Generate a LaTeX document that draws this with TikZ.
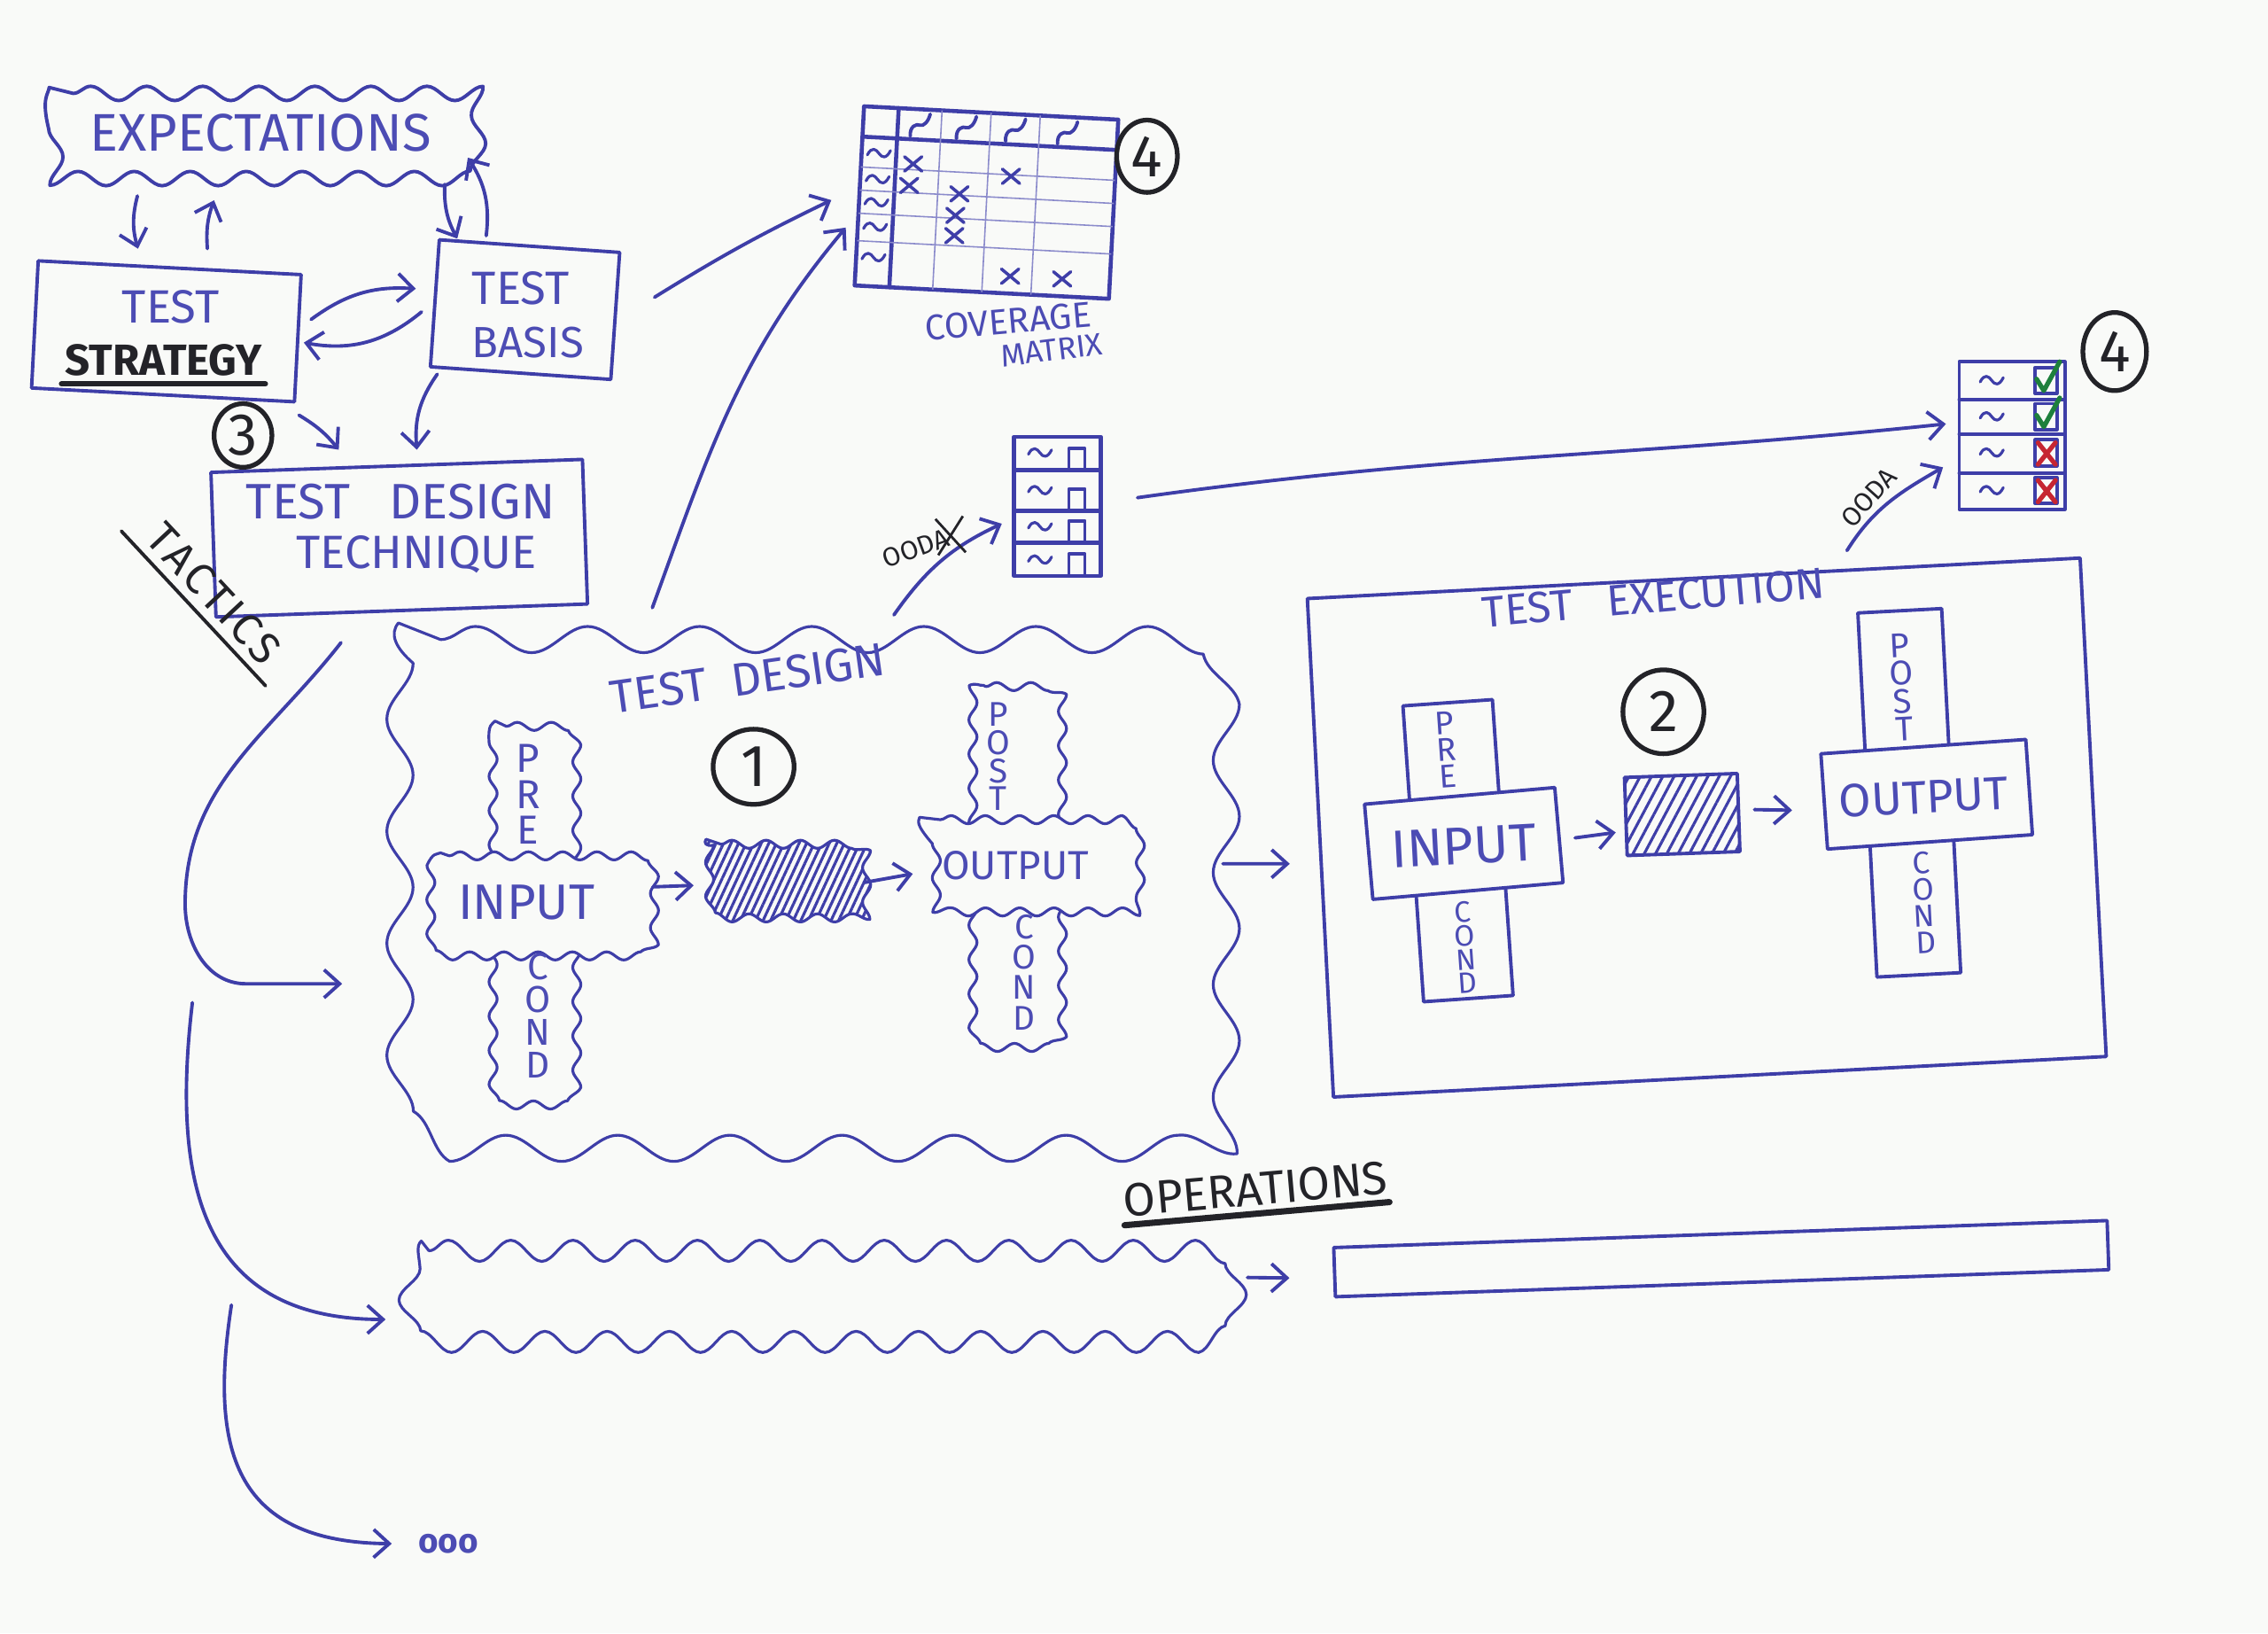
\documentclass[tikz,border=0pt]{standalone}
\usepackage{fontspec}
\setmainfont{Fira Sans}
\usetikzlibrary{arrows.meta,decorations.pathmorphing,shapes.geometric,calc,patterns.meta}
\newcommand\myu{0.1633mm}
\newcommand\myfs[1]{\fontsize{#1}{#1}\selectfont}
\newcommand\mycloud[3]{\draw[#3] ($(#1.north west)+(#2,0)$) -- ($(#1.north east)+(-#2,0)$) .. controls (#1.north east) .. ($(#1.north east)+(0,#2)$) -- ($(#1.south east)+(0,-#2)$) .. controls (#1.south east) .. ($(#1.south east)+(-#2,0)$) -- ($(#1.south west)+(#2,0)$) .. controls (#1.south west) .. ($(#1.south west)+(0,-#2)$) -- ($(#1.north west)+(0,#2)$) .. controls (#1.north west) .. cycle;}
\definecolor{ink}{RGB}{62,62,168}
\definecolor{inkt}{RGB}{76,76,180}
\definecolor{blk}{RGB}{35,35,40}
\definecolor{paper}{RGB}{249,250,248}
\definecolor{okgreen}{RGB}{30,128,60}
\definecolor{badred}{RGB}{198,38,50}
\tikzset{
  ln/.style={draw=ink, line width=1.1pt, line cap=round, line join=round},
  thinln/.style={draw=ink!60, line width=0.45pt},
  arr/.style={ln, -{Straight Barb[length=5pt,width=9pt]}},
  wh/.style 2 args={minimum width=#1*\myu, minimum height=#2*\myu},
  box/.style={ln, rectangle, inner sep=0pt},
  anch/.style={rectangle, inner sep=0pt},
  cloudA/.style={ln, decorate, decoration={snake, amplitude=2.3pt, segment length=18pt}},
  cloudB/.style={ln, line width=0.9pt, decorate, decoration={snake, amplitude=4.2pt, segment length=36pt}},
  cloudC/.style={ln, line width=0.9pt, decorate, decoration={snake, amplitude=1.3pt, segment length=11pt}},
  cloudD/.style={ln, line width=0.9pt, decorate, decoration={snake, amplitude=3.4pt, segment length=20pt}},
  txt/.style={text=inkt, inner sep=0pt},
  btxt/.style={text=blk, inner sep=0pt},
  circ/.style={ellipse, draw=blk, line width=1.5pt, inner sep=0pt, text=blk, font=\myfs{19}},
  bline/.style={draw=blk, line width=1.8pt, line cap=round},
  tld/.pic={\draw[ln, line width=0.9pt] (-8,1) .. controls (-5,-5) and (-2,-3) .. (0,0) .. controls (2,3) and (5,4) .. (8,-2);},
  xm/.pic={\draw[ln, line width=1pt] (-6,-5) -- (6,5) (-6,5) -- (6,-5);},
}
\begin{document}
\begin{tikzpicture}[x=0.1633mm,y=-0.1633mm]
\fill[paper] (0,0) rectangle (1568,1129);
\useasboundingbox (0,0) rectangle (1568,1129);

% ---------------- strategy level
\node[anch, wh={296}{56}] (exp) at (181,93) {};
\mycloud{exp}{18}{cloudA}
\node[txt, font=\myfs{17}] (expt) at (180,92) {EXPECTATIONS};
\node[box, wh={182}{88}, rotate=-3] (ts) at (115,229) {};
\node[txt, font=\myfs{15}] (tst1) at (118,212) {TEST};
\node[btxt, font=\bfseries\myfs{14}] (tst2) at (113,249) {STRATEGY};
\draw[bline] ($(tst2.south west)+(-2,5)$) -- ($(tst2.south east)+(2,5)$);
\node[box, wh={125}{88}, rotate=-4] (tb) at (363,214) {};
\node[txt, font=\myfs{15}] (tbt1) at (360,199) {TEST};
\node[txt, font=\myfs{14}] (tbt2) at (365,237) {BASIS};
\node[box, wh={257}{100}, rotate=2] (tdt) at (276,372) {};
\node[txt, font=\myfs{16}] (tdt1) at (277,347) {TEST\ \ \ DESIGN};
\node[txt, font=\myfs{15}] (tdt2) at (288,383) {TECHNIQUE};
\node[circ, wh={40}{44}] (c3) at (168,301) {3};
\node[btxt, font=\myfs{14}, rotate=-47, inner sep=3pt] (tac) at (148,410) {T\kern1pt A\kern1pt C\kern1pt T\kern1pt I\kern1pt C\kern1pt S};
\draw[bline, line width=1.1pt] ($(tac.south west)!-0.06!(tac.south east)$) -- ($(tac.south east)!-0.03!(tac.south west)$);

\draw[arr] ($(exp.south)+(-86,14)$) to[bend right=15] ($(ts.north)+(-22,-12)$);
\draw[arr] ($(ts.north)+(26,-12)$) to[bend left=12] ($(exp.south)+(-33,17)$);
\draw[arr] ($(exp.south east)+(-22,6)$) to[bend right=15] ($(tb.north)+(-50,-4)$);
\draw[arr] ($(tb.north)+(-30,-6)$) to[bend right=20] ($(exp.east)+(-6,16)$);
\draw[arr] ($(ts.east)+(8,-13)$) to[bend left=20] ($(tb.west)+(-12,-10)$);
\draw[arr] ($(tb.west)+(-8,6)$) to[bend left=25] ($(ts.east)+(3,3)$);
\draw[arr] ($(ts.south east)+(2,8)$) to[bend left=10] ($(tdt.north)+(-40,-10)$);
\draw[arr] ($(tb.south west)+(6,4)$) to[bend right=20] ($(tdt.north)+(14,-10)$);

% ---------------- coverage matrix
\node[box, wh={176}{124}, rotate=-3, line width=1.3pt] (cm) at (682,140) {};
\begin{scope}[shift={(cm.center)}, rotate=-3]
  \draw[ln, line width=1.3pt] (-88,-41) -- (88,-41);
  \draw[ln, line width=1.3pt] (-64,-62) -- (-64,62);
  \foreach \xx in {-34,0,34} \draw[thinln] (\xx,-62) -- (\xx,62);
  \foreach \yy in {-20,-4,12,31} \draw[thinln] (-88,\yy) -- (88,\yy);
  \foreach \yy in {-30,-12,4,21,42} \path (-76,\yy) pic {tld};
  \foreach \xx in {-49,-17,17,53} \draw[ln] (\xx-6,-43) .. controls (\xx-7,-50) and (\xx-2,-52) .. (\xx,-51) .. controls (\xx+3,-50) and (\xx+6,-54) .. (\xx+7,-59);
  \foreach \pp in {(-52,-24),(16,-19),(-54,-9),(-19,-5),(-21,10),(-21,24),(19,50),(55,50)} \path \pp pic {xm};
\end{scope}
\node[txt, font=\myfs{11.5}, rotate=5] (cov) at (697,222) {COVERAGE};
\node[txt, font=\myfs{10}, rotate=7] (mat) at (727,242) {MATRIX};
\node[circ, wh={42}{50}] (c4a) at (793,108) {4};

% ---------------- test case list
\node[box, wh={60}{96}, line width=1.3pt] (tl) at (731,350) {};
\begin{scope}[shift={(tl.center)}]
  \foreach \yy in {-25,3,25} \draw[ln, line width=1.3pt] (-30,\yy) -- (30,\yy);
  \foreach \bb in {-25,3,25,48} \draw[ln] (8,\bb) rectangle (19,\bb-15);
  \foreach \cc in {-37,-11,14,37} \path (-12,\cc) pic {tld};
\end{scope}

% ---------------- result list
\node[box, wh={73}{102}] (rl) at (1391,301) {};
\begin{scope}[shift={(rl.center)}]
  \foreach \yy in {-25,-1,26} \draw[ln] (-36.5,\yy) -- (36.5,\yy);
  \foreach \cc in {-38,-13,12,38} {\draw[ln] (16,\cc-9) rectangle (31,\cc+9); \path (-14,\cc) pic {tld};}
  \foreach \cc in {-38,-13} \draw[okgreen, line width=1.5pt, line cap=round, line join=round] (17,\cc-1) -- (22,\cc+7) -- (33,\cc-13);
  \foreach \cc in {12,38} \draw[badred, line width=1.5pt, line cap=round] (18,\cc-7) -- (30,\cc+8) (30,\cc-7) -- (18,\cc+8);
\end{scope}
\node[circ, wh={44}{54}] (c4b) at (1462,243) {4};

% ---------------- test design
\node[anch, wh={570}{355}] (tdc) at (540,620) {};
\mycloud{tdc}{50}{cloudB}
\node[txt, font=\myfs{15}, rotate=8] (tdct) at (517,469) {TEST\ \ DESIGN};
\node[circ, wh={56}{52}] (c1) at (521,530) {1};
\node[anch, wh={55}{255}] (tdpre) at (364,630) {};
\mycloud{tdpre}{14}{cloudC}
\node[anch, wh={150}{66}] (tdin) at (370,625) {};
\mycloud{tdin}{16}{cloudC, fill=paper}
\node[txt, font=\myfs{16}] (tdint) at (364,624) {INPUT};
\node[txt, font={\fontsize{13}{11.5}\selectfont}, align=center] (tdp) at (365,549) {P\\R\\E};
\node[txt, font={\fontsize{12}{10.6}\selectfont}, align=center] (tdcd1) at (372,702) {C\\O\\N\\D};
\node[anch, wh={108}{56}] (tdsh) at (537,612) {};
\mycloud{tdsh}{16}{cloudC, pattern={Lines[angle=65,distance=2.2pt,line width=0.9pt]}, pattern color=ink}
\node[anch, wh={58}{250}] (tdpost) at (697,600) {};
\mycloud{tdpost}{14}{cloudC}
\node[anch, wh={145}{62}] (tdout) at (707,598) {};
\mycloud{tdout}{16}{cloudC, fill=paper}
\node[txt, font=\myfs{13}] (tdoutt) at (702,598) {OUTPUT};
\node[txt, font={\fontsize{11}{9}\selectfont}, align=center] (tdpo) at (690,523) {P\\O\\S\\T};
\node[txt, font={\fontsize{11}{9.8}\selectfont}, align=center] (tdcd2) at (708,672) {C\\O\\N\\D};
\draw[arr] ($(tdin.east)+(6,-12)$) -- ($(tdsh.west)+(-3,0)$);
\draw[arr] ($(tdsh.east)+(6,-2)$) -- ($(tdout.west)+(-3,6)$);

% ---------------- test execution
\node[box, wh={535}{345}, rotate=3] (te) at (1180,572) {};
\node[txt, font=\myfs{14}, rotate=5] (tet) at (1143,413) {TEST\ \ \ EXECUTION};
\node[circ, wh={56}{58}] (c2) at (1150,492) {2};
\node[box, wh={62}{205}, rotate=4] (tepre) at (1008,588) {};
\node[box, fill=paper, wh={132}{66}, rotate=5] (tein) at (1012,583) {};
\node[txt, font=\myfs{17}, rotate=3] (teint) at (1012,585) {INPUT};
\node[txt, font={\fontsize{10.5}{8.6}\selectfont}, align=center, rotate=4] (tep) at (1000,518) {P\\R\\E};
\node[txt, font={\fontsize{9.5}{7.6}\selectfont}, align=center, rotate=4] (tecd1) at (1013,655) {C\\O\\N\\D};
\node[box, wh={78}{54}, rotate=2, pattern={Lines[angle=62,distance=3.2pt,line width=0.9pt]}, pattern color=ink] (tesh) at (1163,563) {};
\node[box, wh={58}{252}, rotate=3] (tepost) at (1320,548) {};
\node[box, fill=paper, wh={142}{66}, rotate=4] (teout) at (1332,549) {};
\node[txt, font=\myfs{15}, rotate=3] (teoutt) at (1330,551) {OUTPUT};
\node[txt, font={\fontsize{11}{9}\selectfont}, align=center, rotate=3] (tepo) at (1315,475) {P\\O\\S\\T};
\node[txt, font={\fontsize{10}{8.6}\selectfont}, align=center, rotate=3] (tecd2) at (1330,624) {C\\O\\N\\D};
\draw[arr] ($(tein.east)+(10,2)$) -- ($(tesh.west)+(-6,11)$);
\draw[arr] ($(tesh.east)+(10,-2)$) -- ($(teout.west)+(-21,6)$);

% ---------------- links between phases
\draw[arr] ($(tdc.east)+(20,-23)$) -- ($(te.west)+(-20,11)$);
\draw[arr] ($(tb.east)+(26,-13)$) to[bend left=3] ($(cm.west)+(-18,3)$);
\draw[arr] ($(tdc.north)+(-89,-22)$) to[out=70,in=230] ($(cm.west)+(-8,22)$);
\draw[arr] ($(tdc.north)+(78,-17)$) to[out=55,in=205] ($(tl.west)+(-7,12)$);
\node[btxt, font=\myfs{8.5}, rotate=20] (ooda1) at (633,379) {OODA};
\draw[draw=blk, line width=0.8pt] ($(ooda1.east)+(-9,-12)$) -- ($(ooda1.east)+(12,11)$) ($(ooda1.east)+(10,-14)$) -- ($(ooda1.east)+(-7,13)$);
\draw[arr] ($(tl.east)+(24,-6)$) to[out=8,in=186] ($(rl.west)+(-8,-8)$);
\draw[arr] ($(te.north)+(106,-18)$) to[out=58,in=210] ($(rl.west)+(-10,22)$);
\node[btxt, font=\myfs{8.5}, rotate=48] (ooda2) at (1292,344) {OODA};

% ---------------- operations
\node[btxt, font=\myfs{15}, rotate=5] (ops) at (868,822) {OPERATIONS};
\draw[bline, line width=2pt] ($(ops.south west)+(0,5)$) -- ($(ops.south east)+(0,5)$);
\node[anch, wh={556}{56}] (opb) at (557,893) {};
\mycloud{opb}{18}{cloudD}
\node[box, wh={535}{34}, rotate=2] (opr) at (1190,870) {};
\draw[arr] ($(opb.east)+(27,-10)$) -- ($(opr.west)+(-30,4)$);

% ---------------- left flow
\coordinate (w1) at (128,625);
\coordinate (w1b) at (170,680);
\draw[arr] ($(tdt.south)+(-42,21)$) to[out=232,in=90] (w1) to[out=270,in=180] (w1b) -- ($(tdc.west)+(-18,60)$);
\coordinate (s2) at (133,693);
\draw[arr] (s2) .. controls (118,820) and (140,912) .. ($(opb.west)+(-12,19)$);
\node[txt, font=\bfseries\myfs{11}] (dots) at (310,1067) {ooo};
\coordinate (s3) at (160,902);
\draw[arr] (s3) .. controls (145,1000) and (160,1066) .. ($(dots.west)+(-18,0)$);
\end{tikzpicture}
\end{document}
